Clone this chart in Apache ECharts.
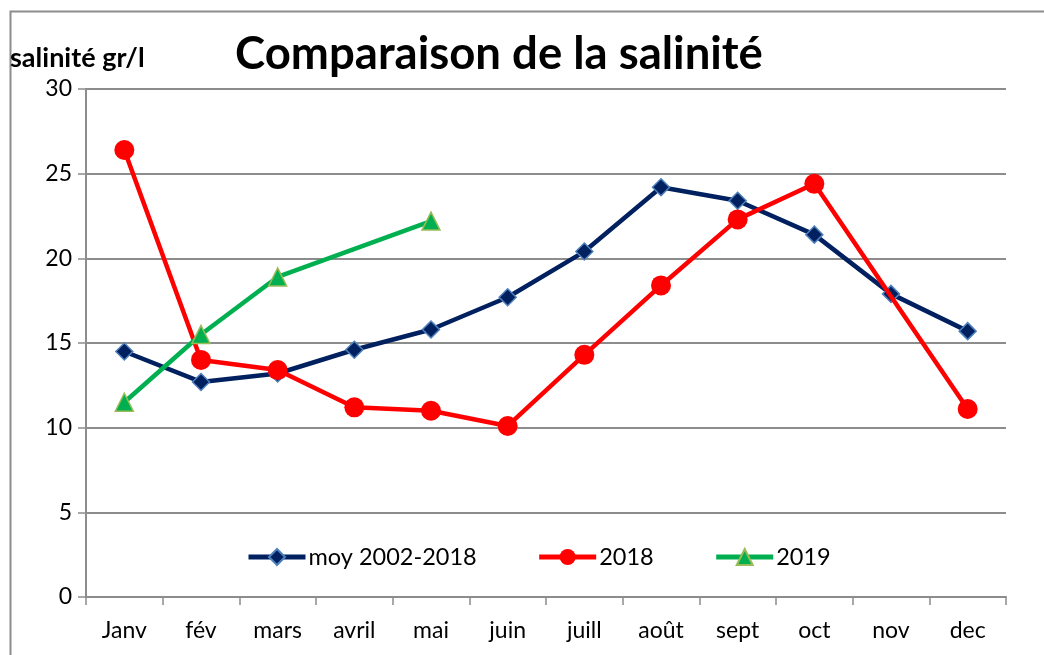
<!DOCTYPE html>
<html>
<head>
<meta charset="utf-8">
<script src="https://cdn.jsdelivr.net/npm/echarts@6/dist/echarts.min.js"></script>
<style>
  html, body { margin: 0; padding: 0; background: #fff; }
  #chart { width: 1044px; height: 655px; }
</style>
</head>
<body>
<div id="chart"></div>
<script>
// mois
const months = ['Janv', 'fév', 'mars', 'avril', 'mai', 'juin', 'juill', 'août', 'sept', 'oct', 'nov', 'dec'];
// salinité moyenne 2002-2018
const moyValues = [14.5, 12.7, 13.2, 14.6, 15.8, 17.7, 20.4, 24.2, 23.4, 21.4, 17.9, 15.7];
// salinité 2018 (nov manquant)
const values2018 = [26.4, 14.0, 13.4, 11.2, 11.0, 10.1, 14.3, 18.4, 22.3, 24.4, null, 11.1];
// salinité 2019 (avril manquant)
const values2019 = [11.5, 15.5, 18.9, null, 22.2, null, null, null, null, null, null, null];

const font = 'Lato, "Open Sans", sans-serif';

const chart = echarts.init(document.getElementById('chart'));
chart.setOption({
  animation: false,
  textStyle: { fontFamily: font },
  graphic: [
    {
      type: 'rect',
      shape: { x: 10.5, y: 11.5, width: 1100, height: 700 },
      style: { fill: 'none', stroke: '#8c8c8c', lineWidth: 2 },
      silent: true,
    },
  ],
  title: {
    text: 'Comparaison de la salinité',
    left: 494,
    textAlign: 'center',
    top: 26,
    textStyle: { fontFamily: font, fontSize: 45.5, fontWeight: 'bold', color: '#000' },
  },
  legend: {
    left: 246,
    top: 545,
    padding: 0,
    itemGap: 60,
    itemWidth: 57,
    itemHeight: 20,
    lineStyle: { width: 5 },
    textStyle: { fontFamily: font, fontSize: 23.5, color: '#000', padding: [0, 0, 0, -2] },
    data: ['moy 2002-2018', '2018', '2019'],
  },
  grid: { left: 86, right: 38, top: 89, bottom: 58 },
  xAxis: {
    type: 'category',
    data: months,
    boundaryGap: true,
    axisLine: { lineStyle: { color: '#8c8c8c', width: 2 } },
    axisTick: { show: true, length: 8, lineStyle: { color: '#8c8c8c', width: 1.5 } },
    axisLabel: { fontFamily: font, fontSize: 23, color: '#000', margin: 22 },
    splitLine: { show: false },
  },
  yAxis: {
    type: 'value',
    min: 0,
    max: 30,
    interval: 5,
    name: 'salinité gr/l',
    nameLocation: 'end',
    nameGap: 17,
    nameTextStyle: { fontFamily: font, fontSize: 27, fontWeight: 'bold', color: '#000', align: 'left', padding: [0, 0, 0, -76] },
    axisLine: { show: true, lineStyle: { color: '#8c8c8c', width: 2 } },
    axisTick: { show: true, length: 8, lineStyle: { color: '#8c8c8c', width: 1.5 } },
    axisLabel: { fontFamily: font, fontSize: 23, color: '#000', margin: 14 },
    splitLine: { show: true, lineStyle: { color: '#8c8c8c', width: 2 } },
  },
  series: [
    {
      name: 'moy 2002-2018',
      type: 'line',
      data: moyValues,
      symbol: 'diamond',
      symbolSize: 17,
      lineStyle: { color: '#002060', width: 4.5 },
      itemStyle: { color: '#002060', borderColor: '#4f81bd', borderWidth: 1.5 },
      z: 3,
    },
    {
      name: '2018',
      type: 'line',
      data: values2018,
      connectNulls: true,
      symbol: 'circle',
      symbolSize: 20,
      lineStyle: { color: '#ff0000', width: 4.5 },
      itemStyle: { color: '#ff0000' },
      z: 4,
    },
    {
      name: '2019',
      type: 'line',
      data: values2019,
      connectNulls: true,
      symbol: 'triangle',
      symbolSize: 18,
      lineStyle: { color: '#00b050', width: 4.5 },
      itemStyle: { color: '#00b050', borderColor: '#9bbb59', borderWidth: 1.5 },
      z: 5,
    },
  ],
});
</script>
</body>
</html>
